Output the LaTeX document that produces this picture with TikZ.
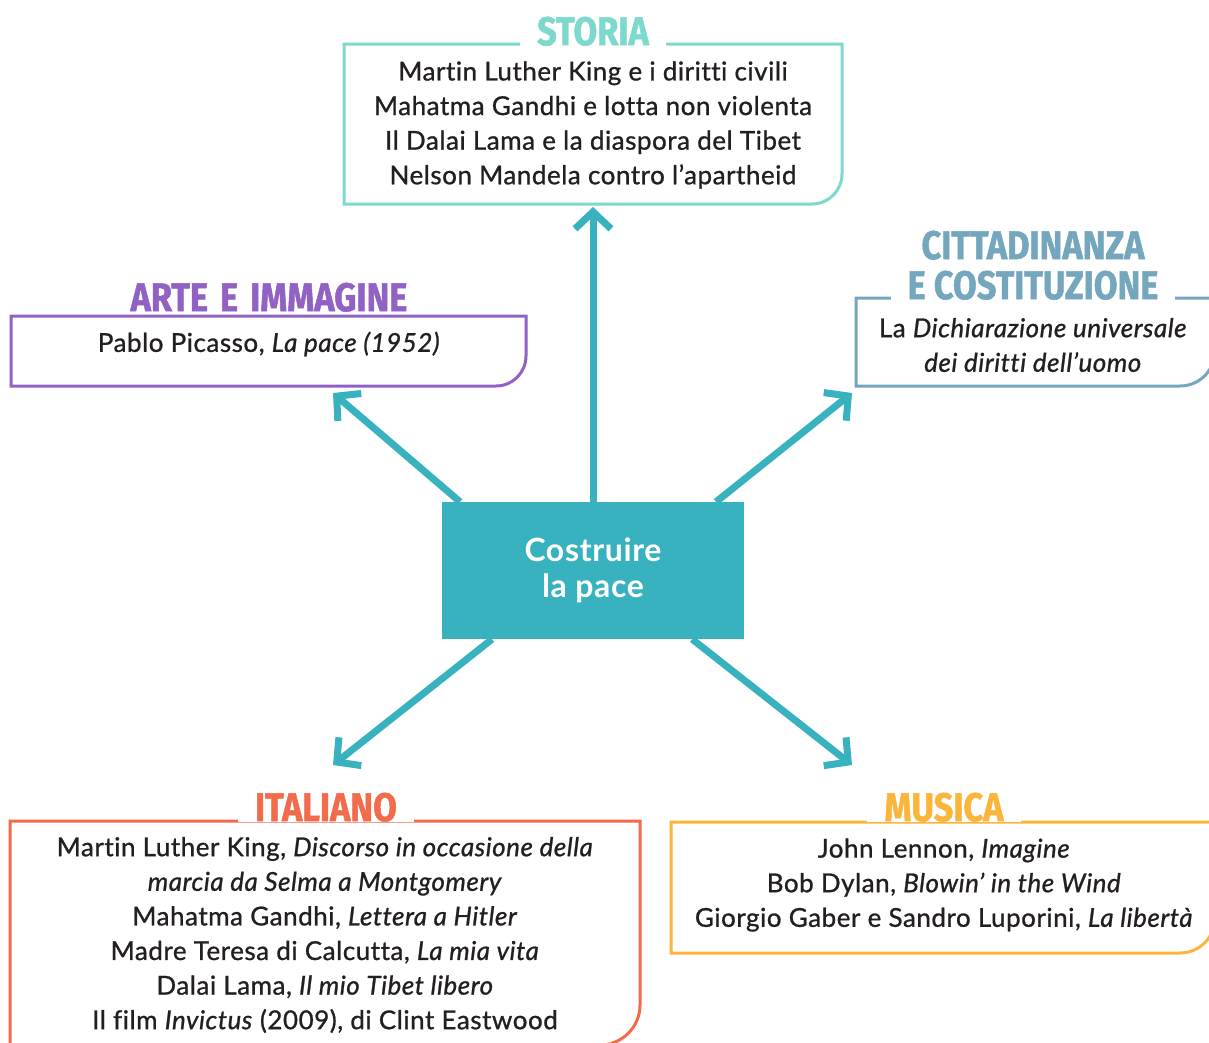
\documentclass[tikz,border=0pt]{standalone}
\usepackage{fontspec}
\setmainfont{Lato}[RawFeature=-liga, LetterSpace=2, UprightFeatures={FakeBold=0.9}, ItalicFeatures={FakeBold=0.9}]
\newfontfamily\titlefont{Fira Sans}[FakeStretch=0.86, BoldFeatures={FakeBold=1.2}]
\usetikzlibrary{arrows.meta,calc}
\pgfdeclarelayer{bgzero}
\pgfdeclarelayer{background}
\pgfsetlayers{bgzero,background,main}
\definecolor{cstoria}{HTML}{7DD9CC}
\definecolor{carte}{HTML}{9162C4}
\definecolor{ccitt}{HTML}{74A7BE}
\definecolor{cital}{HTML}{F26B4A}
\definecolor{cmus}{HTML}{FBB53B}
\definecolor{cteal}{HTML}{38B2BF}
\definecolor{ctext}{HTML}{231F20}
\begin{document}
\begin{tikzpicture}[x=1pt,y=-1pt,
  boxline/.style={line width=3pt},
  cattitle/.style={font=\titlefont\bfseries\fontsize{40}{40}\selectfont, fill=white, inner xsep=17pt, inner ysep=0pt, anchor=south, align=center},
  body/.style={font=\fontsize{26}{34.6}\selectfont, text=ctext, align=center, inner sep=0pt},
  arr/.style={draw=cteal, line width=7pt, -{Straight Barb[length=17pt,width=36pt]}}]
\begin{pgfonlayer}{bgzero}
\fill[white] (0,0) rectangle (1209,1042);
\end{pgfonlayer}
\useasboundingbox (0,0) rectangle (1209,1042);

% STORIA
\draw[cstoria,boxline] (344,44) -- (344,204) -- (812,204) arc[start angle=-90,end angle=0,radius=30pt] -- (842,44) -- cycle;
\node[cattitle,text=cstoria] (storiat) at (593,46) {STORIA};
\node[body] (storiab) at (593,125) {Martin Luther King e i diritti civili\\Mahatma Gandhi e lotta non violenta\\Il Dalai Lama e la diaspora del Tibet\\Nelson Mandela contro l’apartheid};

% ARTE
\draw[carte,boxline] (11,316) -- (11,386) -- (496,386) arc[start angle=-90,end angle=0,radius=30pt] -- (526,316) -- cycle;
\node[cattitle,text=carte] (artet) at (269,312) {ARTE\hspace{0.3em}E\hspace{0.3em}IMMAGINE};
\node[body] (arteb) at (269,344) {Pablo Picasso, \textit{La pace (1952)}};

% CITTADINANZA
\draw[ccitt,boxline] (856,298) -- (856,386) -- (1180,386) arc[start angle=-90,end angle=0,radius=35pt] -- (1215,298) -- cycle;
\node[cattitle,text=ccitt] (cittt) at (1033,300) {CITTADINANZA\\E COSTITUZIONE};
\node[body] (cittb) at (1033,345) {La \textit{Dichiarazione universale}\\\textit{dei diritti dell’uomo}};

% ITALIANO
\draw[cital,boxline] (10,821) -- (10,1045) -- (600,1045) arc[start angle=-90,end angle=0,radius=40pt] -- (640,821) -- cycle;
\node[cattitle,text=cital] (italt) at (326,822) {ITALIANO};
\node[body] (italb) at (325,935) {Martin Luther King, \textit{Discorso in occasione della}\\\textit{marcia da Selma a Montgomery}\\Mahatma Gandhi, \textit{Lettera a Hitler}\\Madre Teresa di Calcutta, \textit{La mia vita}\\Dalai Lama, \textit{Il mio Tibet libero}\\Il film \textit{Invictus} (2009), di Clint Eastwood};

% MUSICA
\draw[cmus,boxline] (671,822) -- (671,953) -- (1180,953) arc[start angle=-90,end angle=0,radius=35pt] -- (1215,822) -- cycle;
\node[cattitle,text=cmus] (must) at (944,822) {MUSICA};
\node[body] (musb) at (944,885) {John Lennon, \textit{Imagine}\\Bob Dylan, \textit{Blowin’ in the Wind}\\Giorgio Gaber e Sandro Luporini, \textit{La libertà}};

% centre
\node[fill=cteal, minimum width=302pt, minimum height=137pt, text=white, font=\bfseries\fontsize{32}{36}\selectfont, align=center] (c) at (593,570.5) {Costruire\\la pace};

\coordinate (eT) at (593,207);
\coordinate (eTL) at (333,393);
\coordinate (eTR) at (852,393);
\coordinate (eBL) at (333,765);
\coordinate (eBR) at (852,765);
\begin{pgfonlayer}{background}
\draw[arr] (c.north) -- (eT);
\draw[arr] ($(c.north west)!0.06!(c.north east)$) -- (eTL);
\draw[arr] ($(c.north west)!0.907!(c.north east)$) -- (eTR);
\draw[arr] ($(c.south west)!0.166!(c.south east)$) -- (eBL);
\draw[arr] ($(c.south west)!0.828!(c.south east)$) -- (eBR);
\end{pgfonlayer}
\end{tikzpicture}
\end{document}
